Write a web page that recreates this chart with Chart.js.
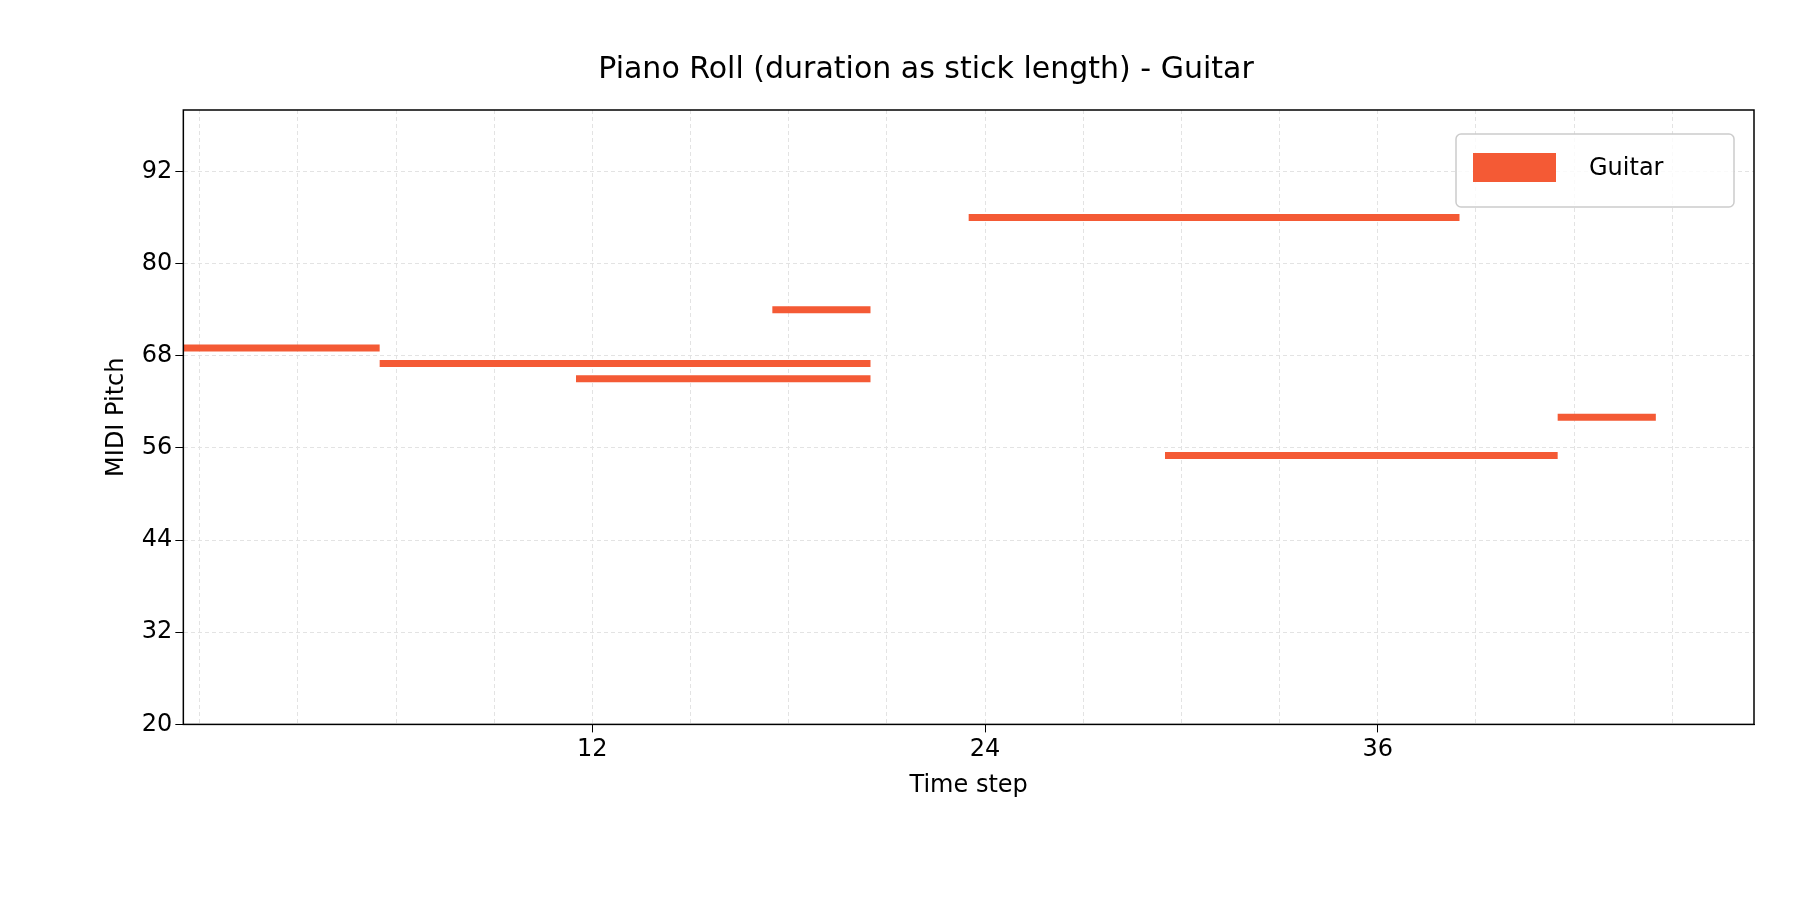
<!DOCTYPE html>
<html>
<head>
<meta charset="utf-8">
<script src="https://cdn.jsdelivr.net/npm/chart.js@4"></script>
<style>
  body { margin: 0; background: #fff; }
  canvas { display: block; }
</style>
</head>
<body>
<canvas id="chart" width="1800" height="900"></canvas>
<script>
// note data
const starts = [0, 6, 12, 18, 24, 30, 42];
const durations = [6, 15, 9, 3, 15, 12, 3];
const pitches = [69, 67, 65, 74, 86, 55, 60];
const xTicks = [0, 3, 6, 9, 12, 15, 18, 21, 24, 27, 30, 33, 36, 39, 42, 45];
const xLabels = [12, 24, 36];
const yTicks = [20, 32, 44, 56, 68, 80, 92];

const color = '#f45a35';
const font = 'DejaVu Sans';

const points = [];
starts.forEach((s, i) => {
    points.push({ x: s - 0.5, y: pitches[i] });
    points.push({ x: s + durations[i] - 0.5, y: pitches[i] });
    points.push({ x: s + durations[i] - 0.5, y: null });
});

const frameAndLegend = {
    id: 'frameAndLegend',
    afterDraw(chart) {
        const { ctx, chartArea: a } = chart;
        ctx.save();
        ctx.strokeStyle = '#000';
        ctx.lineWidth = 1.5;
        ctx.strokeRect(a.left, a.top, a.right - a.left, a.bottom - a.top);
        // legend
        const bx = 1456, by = 134, bw = 278, bh = 73;
        ctx.fillStyle = 'rgba(255,255,255,0.8)';
        ctx.strokeStyle = '#ccc';
        ctx.lineWidth = 1.5;
        ctx.beginPath();
        ctx.roundRect(bx, by, bw, bh, 5);
        ctx.fill();
        ctx.stroke();
        ctx.fillStyle = color;
        ctx.fillRect(bx + 17, by + 19, 83, 29);
        ctx.fillStyle = '#000';
        ctx.font = '24px "' + font + '"';
        ctx.textBaseline = 'middle';
        ctx.fillText('Guitar', bx + 133, by + 35);
        ctx.restore();
    }
};

new Chart(document.getElementById('chart'), {
    type: 'line',
    data: {
        datasets: [{
            label: 'Guitar',
            data: points,
            borderColor: color,
            borderWidth: 7,
            borderCapStyle: 'butt',
            pointRadius: 0,
            spanGaps: false,
            tension: 0
        }]
    },
    options: {
        responsive: false,
        animation: false,
        layout: { padding: { left: 98, right: 46, top: 0, bottom: 96 } },
        plugins: {
            legend: { display: false },
            tooltip: { enabled: false },
            title: {
                display: true,
                text: 'Piano Roll (duration as stick length) - Guitar',
                color: '#000',
                font: { family: font, size: 30, weight: 'normal' },
                padding: { top: 52, bottom: 22 }
            }
        },
        scales: {
            x: {
                type: 'linear',
                min: -0.5,
                max: 47.5,
                afterBuildTicks: s => { s.ticks = xTicks.map(v => ({ value: v })); },
                ticks: {
                    autoSkip: false,
                    maxRotation: 0,
                    color: '#000',
                    font: { family: font, size: 24 },
                    callback: v => xLabels.includes(v) ? String(v) : ''
                },
                grid: {
                    color: '#e3e3e3',
                    lineWidth: 1,
                    tickColor: c => (c.tick && xLabels.includes(c.tick.value)) ? '#000' : 'rgba(0,0,0,0)',
                    tickLength: 8
                },
                border: { display: true, color: '#000', dash: [4, 3] },
                title: {
                    display: true, text: 'Time step', color: '#000',
                    font: { family: font, size: 24 }, padding: { top: 4 }
                }
            },
            y: {
                min: 20,
                max: 100,
                afterBuildTicks: s => { s.ticks = yTicks.map(v => ({ value: v })); },
                ticks: {
                    color: '#000',
                    font: { family: font, size: 24 }
                },
                grid: {
                    color: '#e3e3e3',
                    lineWidth: 1,
                    tickColor: '#000',
                    tickLength: 8
                },
                border: { dash: [4, 3] },
                title: {
                    display: true, text: 'MIDI Pitch', color: '#000',
                    font: { family: font, size: 24 }, padding: { bottom: 8 }
                }
            }
        }
    },
    plugins: [frameAndLegend]
});
</script>
</body>
</html>
